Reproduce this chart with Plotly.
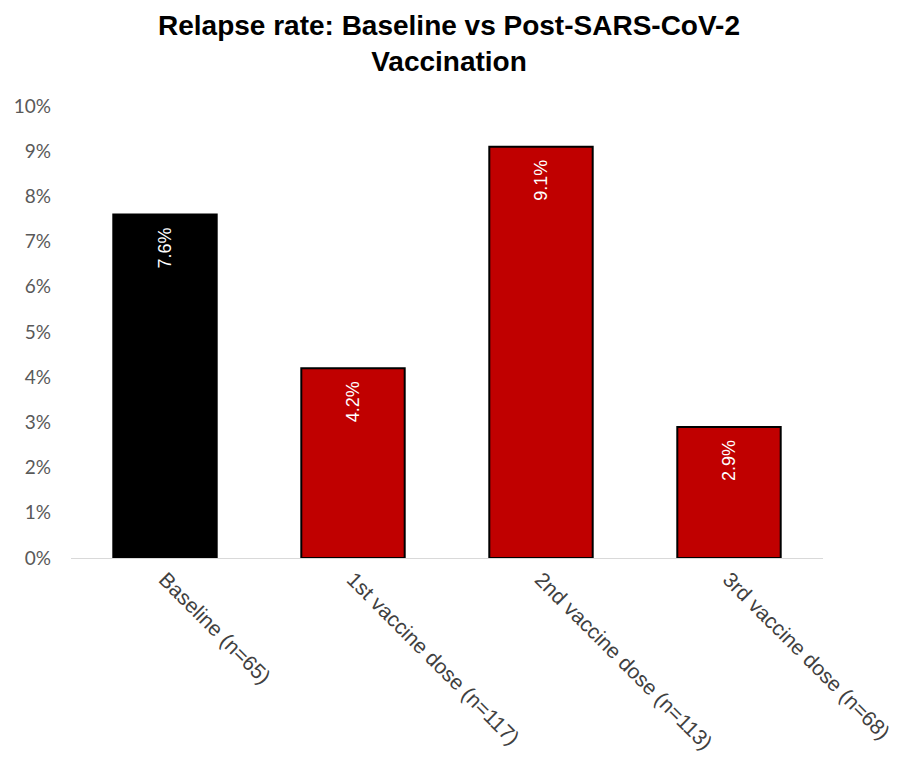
import plotly.graph_objects as go

# Relapse rates per period (percent of patients)
categories = ["Baseline (n=65)", "1st vaccine dose (n=117)",
              "2nd vaccine dose (n=113)", "3rd vaccine dose (n=68)"]
relapse_pct = [7.6, 4.2, 9.1, 2.9]
bar_colors = ["#000000", "#C00000", "#C00000", "#C00000"]
y_ticks = [0, 1, 2, 3, 4, 5, 6, 7, 8, 9, 10]

fig = go.Figure(
    go.Bar(
        x=categories,
        y=relapse_pct,
        marker=dict(color=bar_colors, line=dict(color="#000000", width=2)),
        width=0.55,
        text=[f"{v:.1f}%  " for v in relapse_pct],
        textposition="inside",
        insidetextanchor="end",
        textangle=-90,
        textfont=dict(family="Liberation Sans, Arial", size=18, color="#FFFFFF"),
        hoverinfo="skip",
    )
)

fig.update_layout(
    width=898,
    height=766,
    paper_bgcolor="#FFFFFF",
    plot_bgcolor="#FFFFFF",
    margin=dict(l=71, r=75, t=106, b=208, autoexpand=False),
    title=dict(
        text="<b>Relapse rate: Baseline vs Post-SARS-CoV-2<br>Vaccination</b>",
        x=0.5,
        xanchor="center",
        yref="container",
        y=1 - 35 / 766,
        yanchor="middle",
        font=dict(family="Liberation Sans, Arial", size=28, color="#000000"),
    ),
    showlegend=False,
    bargap=0.45,
)

fig.update_xaxes(
    type="category",
    automargin=False,
    showgrid=False,
    showline=True,
    linecolor="#D9D9D9",
    linewidth=1,
    ticks="",
    tickangle=45,
    tickfont=dict(family="Liberation Sans, Arial", size=21, color="#404040"),
)

fig.update_yaxes(
    range=[0, 10],
    automargin=False,
    tickvals=y_ticks,
    ticktext=[f"{t}%" for t in y_ticks],
    showgrid=False,
    zeroline=False,
    showline=False,
    ticks="",
    ticklabelstandoff=19,
    tickfont=dict(family="Lato, Liberation Sans", size=19, color="#595959"),
)

fig.write_html("out.html")
